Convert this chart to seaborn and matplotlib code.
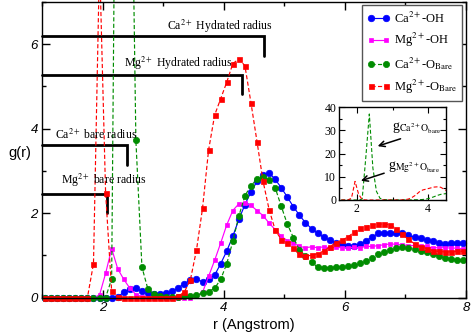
import matplotlib
matplotlib.use("Agg")
import matplotlib.pyplot as plt
from matplotlib.ticker import MultipleLocator
import seaborn as sns

# bin centres (Angstrom)
r = [1.05, 1.15, 1.25, 1.35, 1.45, 1.55, 1.65, 1.75, 1.85, 1.95,
     2.05, 2.15, 2.25, 2.35, 2.45, 2.55, 2.65, 2.75, 2.85, 2.95,
     3.05, 3.15, 3.25, 3.35, 3.45, 3.55, 3.65, 3.75, 3.85, 3.95,
     4.05, 4.15, 4.25, 4.35, 4.45, 4.55, 4.65, 4.75, 4.85, 4.95,
     5.05, 5.15, 5.25, 5.35, 5.45, 5.55, 5.65, 5.75, 5.85, 5.95,
     6.05, 6.15, 6.25, 6.35, 6.45, 6.55, 6.65, 6.75, 6.85, 6.95,
     7.05, 7.15, 7.25, 7.35, 7.45, 7.55, 7.65, 7.75, 7.85, 7.95]

ca_oh = [0, 0, 0, 0, 0, 0, 0, 0, 0, 0,
         0, 0, 0.02, 0.12, 0.20, 0.22, 0.15, 0.10, 0.08, 0.09,
         0.10, 0.15, 0.23, 0.33, 0.41, 0.44, 0.37, 0.43, 0.53, 0.80,
         1.10, 1.45, 1.85, 2.20, 2.50, 2.75, 2.90, 2.95, 2.80, 2.60,
         2.38, 2.15, 1.95, 1.77, 1.63, 1.52, 1.43, 1.36, 1.30, 1.26,
         1.23, 1.23, 1.26, 1.35, 1.43, 1.52, 1.53, 1.53, 1.53, 1.52,
         1.47, 1.43, 1.40, 1.36, 1.33, 1.30, 1.27, 1.28, 1.29, 1.29]

mg_oh = [0, 0, 0, 0, 0, 0, 0, 0, 0, 0.06,
         0.57, 1.16, 0.68, 0.43, 0.22, 0.07, 0.02, 0, 0, 0,
         0, 0, 0, 0, 0, 0.03, 0.12, 0.50, 0.88, 1.29,
         1.72, 2.06, 2.22, 2.23, 2.18, 2.06, 1.94, 1.76, 1.61, 1.45,
         1.35, 1.29, 1.21, 1.18, 1.20, 1.18, 1.20, 1.18, 1.19, 1.18,
         1.18, 1.19, 1.18, 1.21, 1.21, 1.23, 1.25, 1.27, 1.26, 1.25,
         1.23, 1.23, 1.21, 1.21, 1.18, 1.18, 1.18, 1.17, 1.17, 1.15]

ca_obare = [0, 0, 0, 0, 0, 0, 0, 0, 0, 0,
            0, 0.44, 18.0, 37.0, 13.7, 3.72, 0.72, 0.19, 0.08, 0.04,
            0.02, 0.02, 0.02, 0.03, 0.04, 0.06, 0.10, 0.14, 0.22, 0.43,
            0.80, 1.33, 1.93, 2.41, 2.65, 2.80, 2.85, 2.79, 2.60, 2.16,
            1.74, 1.42, 1.13, 0.98, 0.84, 0.72, 0.71, 0.71, 0.72, 0.73,
            0.74, 0.76, 0.81, 0.87, 0.94, 1.02, 1.08, 1.13, 1.17, 1.19,
            1.17, 1.14, 1.11, 1.07, 1.03, 0.98, 0.94, 0.91, 0.89, 0.88]

mg_obare = [0, 0, 0, 0, 0, 0, 0, 0, 0.80, 8.0,
            2.48, 0.15, 0.02, 0, 0, 0, 0, 0, 0, 0,
            0, 0, 0.03, 0.13, 0.42, 1.12, 2.11, 3.49, 4.32, 4.71,
            5.10, 5.54, 5.65, 5.49, 4.61, 3.69, 2.75, 2.08, 1.60, 1.37,
            1.28, 1.17, 1.02, 0.98, 1.00, 1.04, 1.10, 1.20, 1.30, 1.36,
            1.43, 1.55, 1.64, 1.68, 1.72, 1.74, 1.74, 1.72, 1.63, 1.50,
            1.38, 1.27, 1.20, 1.16, 1.11, 1.09, 1.08, 1.08, 1.09, 1.09]

# radius markers
radius_labels = ["Ca$^{2+}$ Hydrated radius", "Mg$^{2+}$ Hydrated radius",
                 "Ca$^{2+}$ bare radius", "Mg$^{2+}$ bare radius"]
radius_r = [4.66, 4.30, 2.40, 2.07]
radius_y = [6.20, 5.28, 3.61, 2.46]

BLUE, MAGENTA, GREEN, RED = "#0000ff", "#ff00ff", "#008c00", "#ff0000"
SERIF = ["Liberation Serif", "DejaVu Serif"]

sns.set_style("ticks", {"xtick.direction": "in", "ytick.direction": "in",
                        "text.color": "black", "axes.labelcolor": "black",
                        "xtick.color": "black", "ytick.color": "black"})
plt.rcParams["font.family"] = ["Liberation Sans", "DejaVu Sans"]
plt.rcParams["mathtext.fontset"] = "stix"

fig = plt.figure(figsize=(4.71, 3.33), dpi=100)
ax = fig.add_axes([42 / 471, 1 - 297.5 / 333, 424 / 471, 295.5 / 333])

DASH = (0, (3.5, 2))
series = [
    ("Ca$^{2+}$-OH", ca_oh, BLUE, "o", 4.7, "-"),
    ("Mg$^{2+}$-OH", mg_oh, MAGENTA, "s", 3.0, "-"),
    ("Ca$^{2+}$-O$_{\\mathrm{Bare}}$", ca_obare, GREEN, "o", 4.5, DASH),
    ("Mg$^{2+}$-O$_{\\mathrm{Bare}}$", mg_obare, RED, "s", 3.6, DASH),
]
for label, vals, color, marker, ms, ls in series:
    sns.lineplot(x=r, y=vals, ax=ax, color=color, marker=marker, markersize=ms,
                 markeredgecolor=color, markeredgewidth=0.5, linestyle=ls,
                 lw=0.85, label=label, clip_on=False)

ax.set_xlim(1, 8)
ax.set_ylim(0, 7)
ax.xaxis.set_major_locator(MultipleLocator(2))
ax.xaxis.set_minor_locator(MultipleLocator(1))
ax.yaxis.set_major_locator(MultipleLocator(2))
ax.yaxis.set_minor_locator(MultipleLocator(1))
ax.tick_params(which="both", top=True, right=True, direction="in", width=1,
               labelsize=9.5, pad=3, colors="black")
ax.tick_params(which="major", length=6)
ax.tick_params(which="minor", length=3)
for lab in ax.get_xticklabels() + ax.get_yticklabels():
    lab.set_style("italic")
for sp in ax.spines.values():
    sp.set_linewidth(1.0)
    sp.set_color("black")

ax.set_xlabel("r (Angstrom)", fontsize=10.5)
ax.xaxis.set_label_coords(0.5, -0.07)
ax.set_ylabel("g(r)", fontsize=10.5, rotation=0, ha="center", va="center")
ax.yaxis.set_label_coords(-0.052, 0.49)

# radius brackets
text_pos = [(3.07, 6.34), (2.35, 5.47), (1.21, 3.75), (1.32, 2.69)]
for lab, xe, ye, (tx, ty) in zip(radius_labels, radius_r, radius_y, text_pos):
    ax.plot([1.0, xe, xe], [ye, ye, ye - 0.47], color="black", lw=2.0,
            solid_joinstyle="miter", clip_on=False, zorder=1)
    ax.text(tx, ty, lab, family=SERIF, fontsize=8.5, va="baseline", ha="left")

leg = ax.legend(loc="upper right", bbox_to_anchor=(0.9906, 0.99), borderaxespad=0,
                numpoints=2, fancybox=False, framealpha=1, edgecolor="#555555",
                prop={"family": SERIF, "size": 9}, handlelength=1.8,
                handletextpad=0.3, labelspacing=0.45, borderpad=0.45)
leg.get_frame().set_linewidth(1.0)

# inset zoom on the bare-oxygen first peaks
axin = fig.add_axes([339 / 471, 1 - 200 / 333, 107 / 471, 93 / 333])
sns.lineplot(x=r, y=ca_obare, ax=axin, color=GREEN, linestyle=DASH, lw=0.8)
sns.lineplot(x=r, y=mg_obare, ax=axin, color=RED, linestyle=DASH, lw=0.8)
axin.set_xlim(1.5, 4.5)
axin.set_ylim(0, 40)
axin.xaxis.set_major_locator(MultipleLocator(2))
axin.xaxis.set_minor_locator(MultipleLocator(1))
axin.yaxis.set_major_locator(MultipleLocator(10))
axin.yaxis.set_minor_locator(MultipleLocator(5))
axin.tick_params(which="both", top=True, right=True, direction="in", width=0.8,
                 labelsize=8.5, pad=2, colors="black")
axin.tick_params(which="major", length=4)
axin.tick_params(which="minor", length=2.5)
for lab in axin.get_xticklabels() + axin.get_yticklabels():
    lab.set_family(SERIF)
for sp in axin.spines.values():
    sp.set_linewidth(1.0)
    sp.set_color("black")
axin.set_xlabel("")
axin.set_ylabel("")

axin.annotate("", xy=(2.51, 22.8), xytext=(3.3, 26.7),
              arrowprops=dict(arrowstyle="->", color="black", lw=1.1))
axin.annotate("", xy=(2.04, 7.9), xytext=(2.84, 11.9),
              arrowprops=dict(arrowstyle="->", color="black", lw=1.1))
axin.text(3.0, 30, r"g$_{\mathrm{Ca^{2+}O_{bare}}}$", family=SERIF, fontsize=10,
          va="baseline", ha="left")
axin.text(2.87, 13.3, r"g$_{\mathrm{Mg^{2+}O_{bare}}}$", family=SERIF, fontsize=10,
          va="baseline", ha="left")

fig.savefig("out.png", dpi=100)
